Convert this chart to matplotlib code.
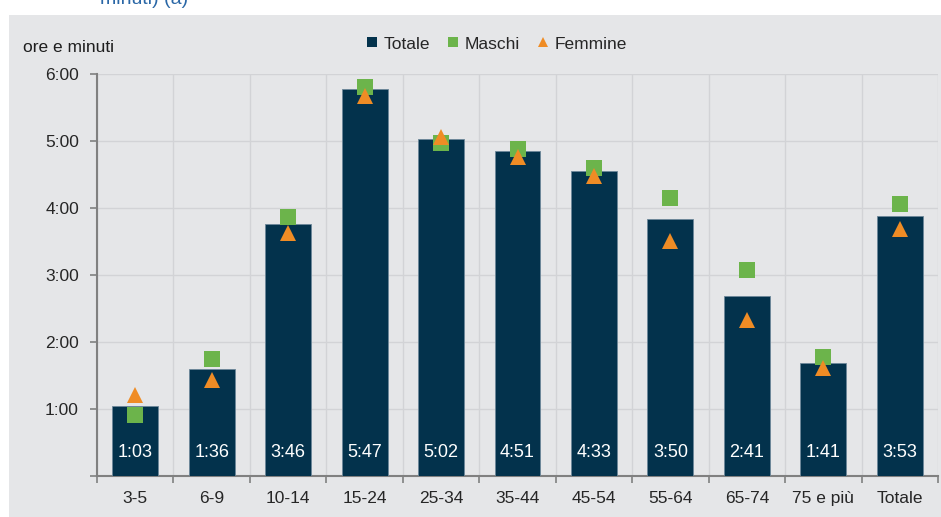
import matplotlib.pyplot as plt
from matplotlib.lines import Line2D
from matplotlib.patches import Rectangle

plt.rcParams['font.family'] = ['Liberation Sans', 'DejaVu Sans']

# minuti
categorie = ["3-5", "6-9", "10-14", "15-24", "25-34", "35-44", "45-54", "55-64", "65-74", "75 e più", "Totale"]
totale = [63, 96, 226, 347, 302, 291, 273, 230, 161, 101, 233]
maschi = [55, 105, 232, 349, 298, 293, 276, 249, 185, 107, 244]
femmine = [73, 86, 218, 341, 304, 286, 269, 211, 140, 97, 221]
ore_ticks = [60, 120, 180, 240, 300, 360]

navy = "#03324c"
verde = "#6cb44b"
arancio = "#ef8c25"
sfondo = "#e5e6e8"
griglia = "#d2d3d6"
testo = "#262626"
fs = 12.5


def hm(m):
    return "%d:%02d" % (m // 60, m % 60)


fig = plt.figure(figsize=(9.41, 5.17), dpi=100, facecolor="white")
fig.patches.append(Rectangle((9 / 941, 0), 1, 1 - 15 / 517, transform=fig.transFigure,
                             facecolor=sfondo, edgecolor="none", zorder=-10))
fig.text(100 / 941, 1 - 4 / 517, "minuti) (a)", color="#2a67a6", fontsize=14, va="baseline", zorder=-5)

ax = fig.add_axes([97 / 941, 41 / 517, 841 / 941, 401.7 / 517])
ax.set_facecolor(sfondo)
x = list(range(len(categorie)))

ax.bar(x, totale, width=0.6, color=navy, edgecolor="#6d8799", linewidth=0.6, zorder=3)
ax.plot(x, maschi, ls="none", marker="s", ms=11.3, color=verde, mew=0, zorder=4)
ax.plot(x, femmine, ls="none", marker="^", ms=11, color=arancio, mew=0, zorder=5)

for xi, v in zip(x, totale):
    ax.annotate(hm(v), (xi, 0), xytext=(0, 17), textcoords="offset points",
                ha="center", va="center", color="white", fontsize=13, zorder=6)

ax.set_xlim(-0.5, len(categorie) - 0.5)
ax.set_ylim(0, 360)
ax.set_xticks(x)
ax.set_xticklabels(categorie, fontsize=fs, color=testo)
ax.set_xticks([i - 0.5 for i in range(len(categorie) + 1)], minor=True)
ax.tick_params(axis="x", which="major", length=0, pad=11)
ax.tick_params(axis="x", which="minor", length=5, width=1.2, color="#808080", direction="out")
ax.set_yticks([0] + ore_ticks)
ax.set_yticklabels([""] + [hm(v) for v in ore_ticks], fontsize=fs, color=testo)
ax.tick_params(axis="y", length=5, width=1.2, color="#808080", pad=8)

ax.grid(True, axis="y", which="major", color=griglia, lw=1, zorder=0)
ax.grid(True, axis="x", which="minor", color=griglia, lw=1, zorder=0)
for s in ["top", "right"]:
    ax.spines[s].set_visible(False)
for s in ["left", "bottom"]:
    ax.spines[s].set_color("#808080")
    ax.spines[s].set_linewidth(1.5)

fig.text(23 / 941, 1 - 48 / 517, "ore e minuti", fontsize=fs, color="#1e1e1e", va="center")

handles = [
    Line2D([], [], ls="none", marker="s", ms=7.5, color=navy, mew=0),
    Line2D([], [], ls="none", marker="s", ms=7.5, color=verde, mew=0),
    Line2D([], [], ls="none", marker="^", ms=7.5, color=arancio, mew=0),
]
fig.legend(handles, ["Totale", "Maschi", "Femmine"], ncol=3, frameon=False,
           loc="center", bbox_to_anchor=(496 / 941, 1 - 44 / 517), fontsize=fs,
           handlelength=0.8, handletextpad=0.3, columnspacing=0.9, labelcolor=testo)

fig.savefig("out.png", dpi=100, facecolor=fig.get_facecolor())
